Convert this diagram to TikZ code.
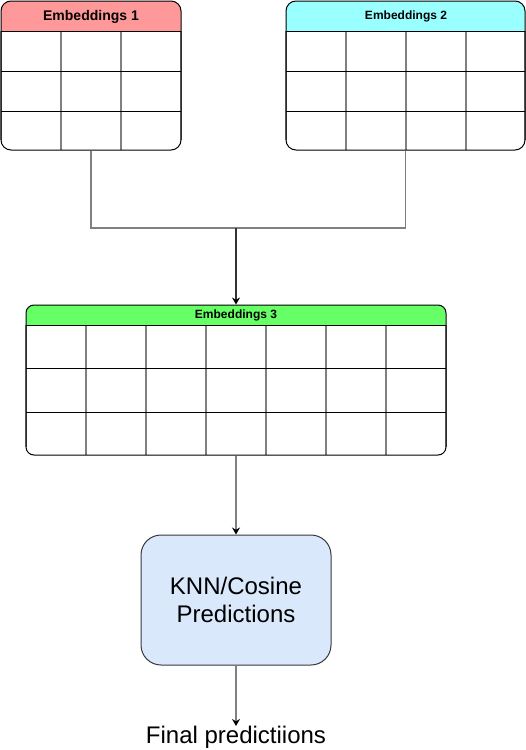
\documentclass[tikz,border=0pt]{standalone}
\usepackage{fontspec}
\setmainfont{Liberation Sans}
\usetikzlibrary{arrows.meta}
\definecolor{hdrred}{HTML}{FF9999}
\definecolor{hdrcyan}{HTML}{99FFFF}
\definecolor{hdrgreen}{HTML}{66FF66}
\definecolor{knnfill}{HTML}{DAE8FC}
\definecolor{linegray}{HTML}{808080}
\definecolor{knnborder}{HTML}{36393D}
\definecolor{darkline}{HTML}{333333}
\begin{document}
\begin{tikzpicture}[x=1pt,y=-1pt,
  tablebox/.style={draw=black, line width=1pt, rounded corners=10pt, inner sep=0pt, fill=none},
  vline/.style={draw=linegray, line width=1.5pt},
  hline/.style={draw=black, line width=1pt},
  conn/.style={draw=linegray, line width=1.4pt},
  arr/.style={draw=darkline, line width=1.2pt, -{Stealth[length=7pt,width=8pt,color=black]}},
  garr/.style={draw=linegray, line width=1.4pt, -{Stealth[length=7pt,width=8pt,color=black]}},
  hdrtext/.style={font=\bfseries\fontsize{#1}{#1}\selectfont, inner sep=0pt},
  knnbox/.style={draw=knnborder, fill=knnfill, line width=1pt, rounded corners=20pt, minimum width=190pt, minimum height=130pt, inner sep=0pt, align=center, font=\fontsize{24}{28}\selectfont}
]
\useasboundingbox (0,0) rectangle (526,750);
\fill[white] (0,0) rectangle (526,750);

% ---------- Embeddings 1 ----------
\begin{scope}
  \clip[rounded corners=10pt] (1,1) rectangle (181,150);
  \fill[hdrred] (1,1) rectangle (181,31);
\end{scope}
\foreach \x in {1,61,121,181} \draw[vline] (\x,31) -- (\x,{\x==1 || \x==181 ? 140 : 150});
\foreach \y in {31,71,111} \draw[hline] (1,\y) -- (181,\y);
\node[tablebox, minimum width=180pt, minimum height=149pt] (e1) at (91,75.5) {};
\node[hdrtext=14] (e1t) at (91,16.5) {Embeddings 1};

% ---------- Embeddings 2 ----------
\begin{scope}
  \clip[rounded corners=10pt] (286,1) rectangle (525,150);
  \fill[hdrcyan] (286,1) rectangle (525,31);
\end{scope}
\foreach \x in {286,346,406,466,525} \draw[vline] (\x,31) -- (\x,{\x==286 || \x==525 ? 140 : 150});
\foreach \y in {31,71,111} \draw[hline] (286,\y) -- (525,\y);
\node[tablebox, minimum width=239pt, minimum height=149pt] (e2) at (405.5,75.5) {};
\node[hdrtext=12] (e2t) at (406,16) {Embeddings 2};

% ---------- Embeddings 3 ----------
\begin{scope}
  \clip[rounded corners=8pt] (26,305) rectangle (446,455);
  \fill[hdrgreen] (26,305) rectangle (446,325);
\end{scope}
\foreach \x in {26,86,146,206,266,326,386,446} \draw[vline] (\x,325) -- (\x,{\x==26 || \x==446 ? 447 : 455});
\foreach \y in {325,368,412} \draw[hline] (26,\y) -- (446,\y);
\node[tablebox, rounded corners=8pt, minimum width=420pt, minimum height=150pt] (e3) at (236,380) {};
\node[hdrtext=12] (e3t) at (236,315.5) {Embeddings 3};

% ---------- connectors ----------
\coordinate (j) at (236,228);
\draw[conn] (e1.south) |- (j);
\draw[conn] (e2.south) |- (j);
\draw[arr] (j) -- (e3.north);

% ---------- KNN ----------
\node[knnbox] (knn) at (236,600) {KNN/Cosine\\Predictions};
\draw[garr] (e3.south) -- (knn.north);

% ---------- Final ----------
\node[font=\fontsize{24}{26}\selectfont, inner sep=0pt, anchor=north] (fin) at (236,726) {Final predictiions};
\draw[garr] (knn.south) -- (fin.north);
\end{tikzpicture}
\end{document}
